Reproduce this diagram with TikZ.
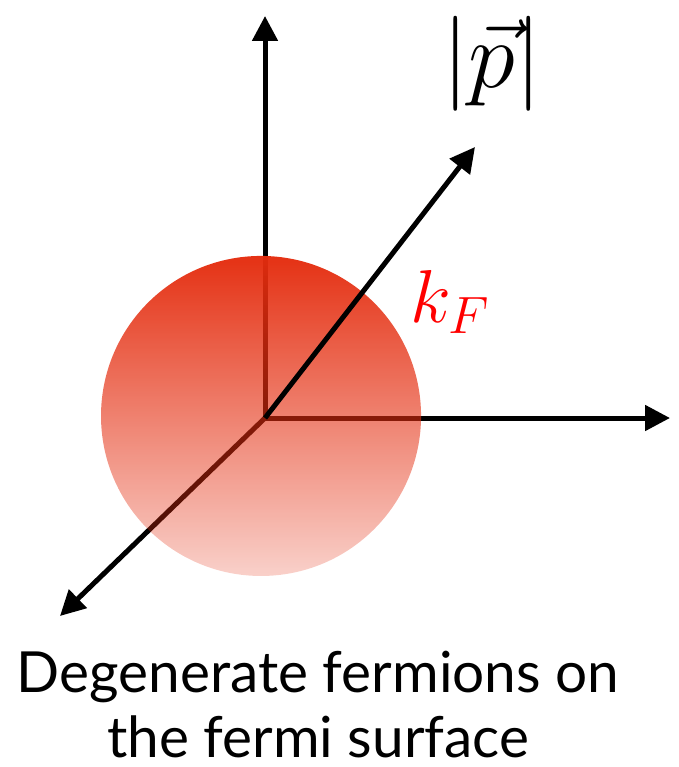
\RequirePackage{fix-cm}
\documentclass[tikz,border=0pt]{standalone}
\usepackage{amsmath}
\usepackage{fontspec}
\setmainfont{Lato}
\usepackage{tikz}
\usetikzlibrary{arrows.meta, fadings, positioning}
\definecolor{fermired}{RGB}{228,45,15}
\definecolor{kfred}{RGB}{255,0,0}
\tikzfading[name=fermifade, top color=transparent!2, bottom color=transparent!78]
\tikzset{
  axis/.style   ={line width=5pt, -{Triangle[length=25pt,width=25pt]}},
  sphere/.style ={fill=fermired, path fading=fermifade},
  caption/.style={inner sep=0pt, anchor=base, font=\fontsize{56.7}{60}\selectfont},
  mlabel/.style ={inner sep=0pt, anchor=base west},
}

\begin{document}
\begin{tikzpicture}[x=1pt, y=-1pt]
  \useasboundingbox (0,0) rectangle (678,767);

  % ── Origin and axis ends ───────────────────────────────────────────
  \coordinate (o)  at (265,418);
  \coordinate (pz) at (265,16);
  \coordinate (px) at (670,418);
  \coordinate (py) at (60,616);
  \coordinate (pp) at (475,147);

  % ── Axes behind the sphere ─────────────────────────────────────────
  \draw[axis] (o) -- (pz);
  \draw[axis] (o) -- (px);
  \draw[axis] (o) -- (py);

  % ── Fermi sphere ───────────────────────────────────────────────────
  \fill[sphere] (261,416) circle (160);

  % ── Momentum arrow and labels ──────────────────────────────────────
  \draw[axis] (o) -- (pp);
  \node[mlabel, font=\fontsize{95}{95}\selectfont] (pabs) at (442,88) {$|\vec{p}|$};
  \node[mlabel, font=\fontsize{75}{75}\selectfont, text=kfred] (kf) at (410,322) {$k_F$};

  % ── Caption ────────────────────────────────────────────────────────
  \node[caption] (cap1) at (318,692) {Degenerate fermions on};
  \node[caption] (cap2) at (318,757) {the fermi surface};
\end{tikzpicture}
\end{document}
